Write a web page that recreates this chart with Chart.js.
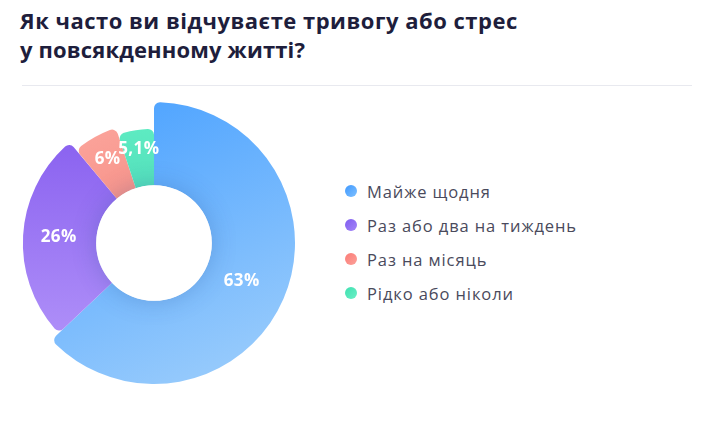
<!DOCTYPE html>
<html lang="uk">
<head>
<meta charset="utf-8">
<script src="https://cdn.jsdelivr.net/npm/chart.js@4.4.0/dist/chart.umd.min.js"></script>
<style>
  html, body { margin: 0; padding: 0; background: #ffffff; }
  body { width: 716px; height: 438px; position: relative; overflow: hidden; font-family: "Open Sans", sans-serif; }
  #title { position: absolute; left: 20px; top: 6px; margin: 0; font: 700 22px/29px "Open Sans", sans-serif; color: #1e1e3c; white-space: nowrap; }
  #title .l1 { letter-spacing: 0.5px; }
  #title .l2 { letter-spacing: 0.15px; }
  #sep { position: absolute; left: 22px; top: 85px; width: 670px; height: 1px; background: #e8e9ef; }
  #wrap { position: absolute; left: 13px; top: 102px; width: 282px; height: 282px; }
  #legend { position: absolute; left: 345px; top: 174px; }
  .item { display: flex; align-items: center; height: 34px; font: 400 16.5px "Open Sans", sans-serif; letter-spacing: 0.9px; color: #4a4a5c; white-space: nowrap; }
  .dot { width: 12px; height: 12px; border-radius: 50%; margin-right: 10px; flex: none; }
</style>
</head>
<body>
<h1 id="title"><span class="l1">Як часто ви відчуваєте тривогу або стрес</span><br><span class="l2">у повсякденному житті?</span></h1>
<div id="sep"></div>
<div id="wrap"><canvas id="c" width="282" height="282"></canvas></div>
<div id="legend"></div>
<script>
// ---- data ----
const categories = ['Майже щодня', 'Раз або два на тиждень', 'Раз на місяць', 'Рідко або ніколи'];
const shares = [63, 26, 6, 5.1];
const valueLabels = shares.map(v => String(v).replace('.', ',') + '%');

// ---- styles ----
const gradientStops = [
  ['#4fa4ff', '#94c9fc'],
  ['#8b63f0', '#ad8df8'],
  ['#fba49b', '#f8968d'],
  ['#5eecc2', '#55e0bd']
];
const gradientDirs = [
  [-0.2, -1.0, 0.6, 0.8],
  [-0.6, -0.7, -0.6, 0.6],
  [-0.4, -0.85, -0.2, -0.4],
  [-0.1, -0.85, -0.1, -0.4]
];
const legendDots = [
  ['#3f99ff', '#7fc0ff'],
  ['#7f5cf0', '#a486f7'],
  ['#fb7b76', '#fca19a'],
  ['#3fe0b0', '#6cefc6']
];
const radiusScale = [1, 0.93, 0.86, 0.81];
const labelRadiusFactor = 0.96;

function makeGradient(context) {
  const chart = context.chart;
  const i = context.dataIndex;
  const a = chart.chartArea;
  if (!a) return gradientStops[i][0];
  const cx = (a.left + a.right) / 2, cy = (a.top + a.bottom) / 2;
  const R = Math.min(a.width, a.height) / 2;
  const d = gradientDirs[i];
  const g = chart.ctx.createLinearGradient(cx + d[0] * R, cy + d[1] * R, cx + d[2] * R, cy + d[3] * R);
  g.addColorStop(0, gradientStops[i][0]);
  g.addColorStop(1, gradientStops[i][1]);
  return g;
}

let baseOuter = 0;
const varyRadius = {
  id: 'varyRadius',
  afterDatasetsUpdate(chart) {
    const meta = chart.getDatasetMeta(0);
    meta.data.forEach((arc, i) => {
      if (i === 0) baseOuter = arc.outerRadius;
      arc.outerRadius = arc.outerRadius * radiusScale[i];
    });
  }
};

const holeShadowAndLabels = {
  id: 'holeShadowAndLabels',
  afterDatasetsDraw(chart) {
    const meta = chart.getDatasetMeta(0);
    const arc = meta.data[0];
    if (!arc) return;
    const ctx = chart.ctx;
    ctx.save();
    ctx.beginPath();
    ctx.arc(arc.x, arc.y, arc.innerRadius, 0, Math.PI * 2);
    ctx.shadowColor = 'rgba(30, 70, 140, 0.25)';
    ctx.shadowBlur = 24;
    ctx.fillStyle = '#ffffff';
    ctx.fill();
    ctx.restore();
    ctx.save();
    ctx.font = '700 17px "Open Sans", sans-serif';
    try { ctx.letterSpacing = '0.4px'; } catch (e) {}
    ctx.fillStyle = '#ffffff';
    ctx.textAlign = 'center';
    ctx.textBaseline = 'middle';
    meta.data.forEach((el, i) => {
      const mid = (el.startAngle + el.endAngle) / 2;
      const r = (el.innerRadius + baseOuter) / 2 * labelRadiusFactor;
      ctx.fillText(valueLabels[i], el.x + Math.cos(mid) * r, el.y + Math.sin(mid) * r);
    });
    ctx.restore();
  }
};

new Chart(document.getElementById('c'), {
  type: 'doughnut',
  data: {
    labels: categories,
    datasets: [{
      data: shares,
      backgroundColor: makeGradient,
      borderWidth: 0,
      borderRadius: { outerStart: 6, outerEnd: 6, innerStart: 0, innerEnd: 0 }
    }]
  },
  options: {
    responsive: false,
    animation: false,
    events: [],
    cutout: '41%',
    layout: { padding: 0 },
    plugins: { legend: { display: false }, tooltip: { enabled: false } }
  },
  plugins: [varyRadius, holeShadowAndLabels]
});

const legend = document.getElementById('legend');
categories.forEach((name, i) => {
  const item = document.createElement('div');
  item.className = 'item';
  const dot = document.createElement('span');
  dot.className = 'dot';
  dot.style.background = 'linear-gradient(135deg,' + legendDots[i][0] + ',' + legendDots[i][1] + ')';
  const txt = document.createElement('span');
  txt.textContent = name;
  item.appendChild(dot);
  item.appendChild(txt);
  legend.appendChild(item);
});
</script>
</body>
</html>
